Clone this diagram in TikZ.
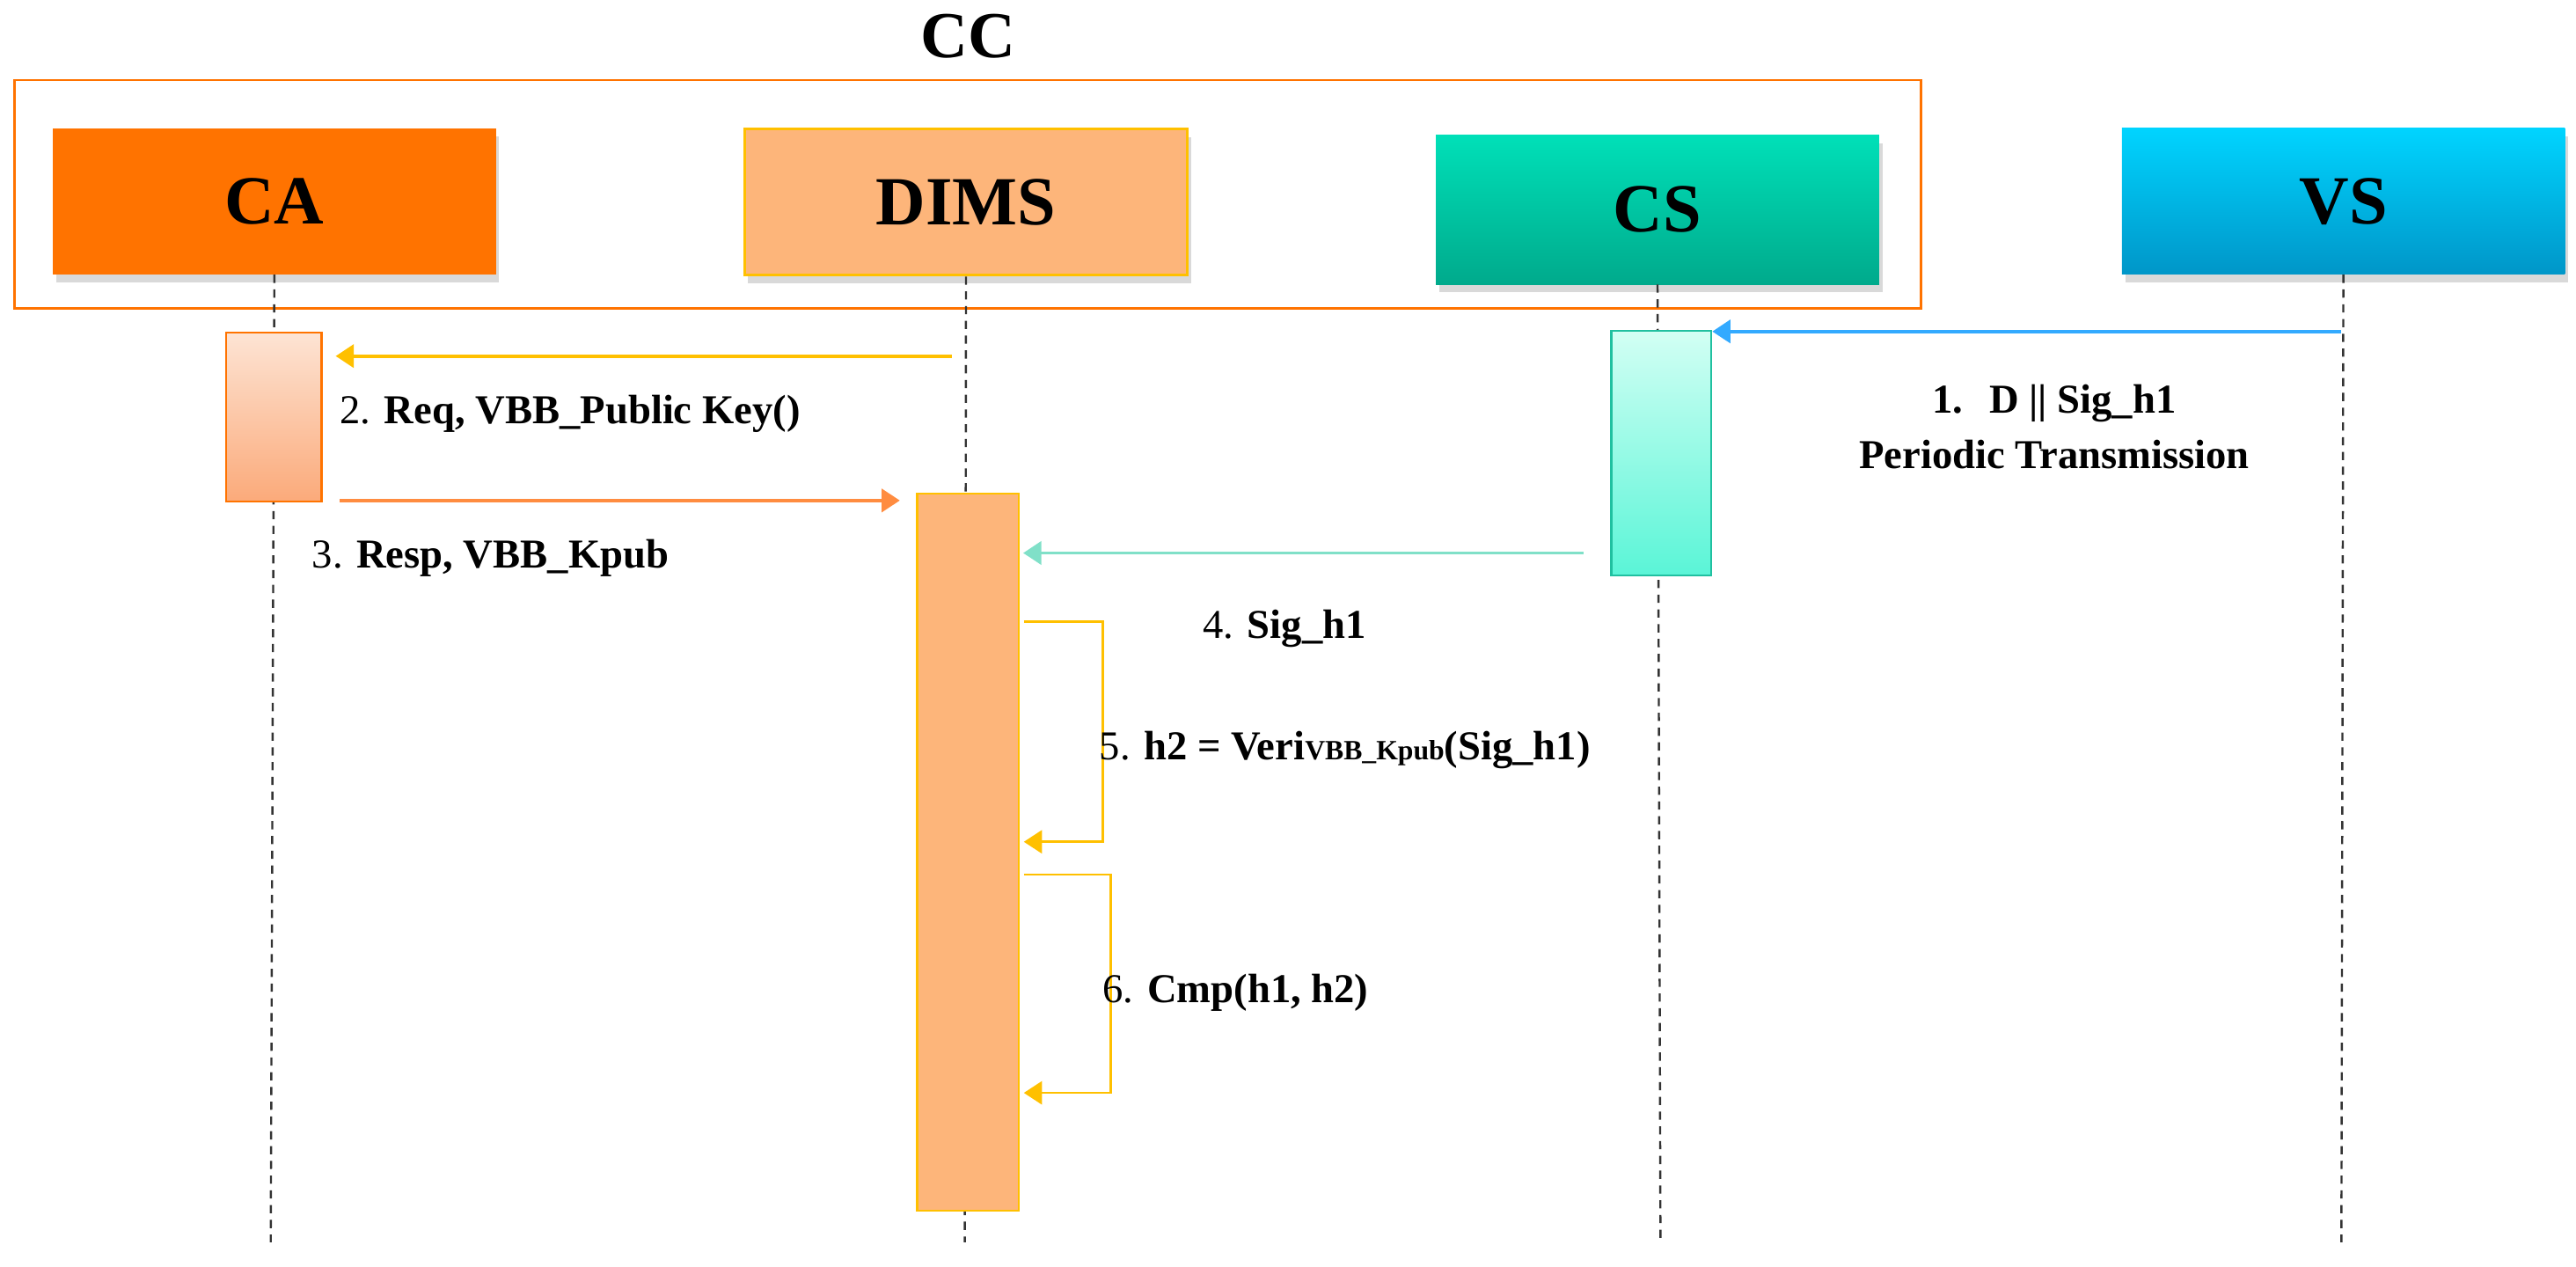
\documentclass[tikz,border=0pt]{standalone}
\usepackage{fontspec}
\setmainfont{Liberation Serif}
\usetikzlibrary{arrows.meta,shadows}
\begin{document}
\begin{tikzpicture}[x=1pt,y=-1pt,
  head/.style={draw=none,minimum width=270pt,minimum height=89pt,font=\fontsize{42}{42}\selectfont\bfseries,drop shadow={shadow xshift=2pt,shadow yshift=-5pt,opacity=0.3}},
  life/.style={dash pattern=on 5pt off 4pt,line width=1.3pt,black!80},
  act/.style={draw,line width=1.2pt,minimum width=58pt,inner sep=0pt},
  msg/.style={line width=2pt,-{Triangle[length=11pt,width=14pt]}},
  lbl/.style={font=\fontsize{25}{30}\selectfont,anchor=west,inner sep=0pt,align=center}]
\useasboundingbox (0,0) rectangle (1570,771.6);
\node[font=\fontsize{40}{40}\selectfont\bfseries] (cc) at (590,22) {CC};
\node[draw=orange!90!red,line width=1.5pt,minimum width=1162pt,minimum height=139pt,anchor=north west] (frame) at (8,48) {};
\node[head,fill=orange!90!red,anchor=north west] (ca) at (32,78) {CA};
\node[head,fill={rgb,255:red,253;green,181;blue,122},draw={rgb,255:red,255;green,192;blue,0},line width=1.5pt,anchor=north west] (dims) at (453,78) {DIMS};
\node[head,top color={rgb,255:red,0;green,224;blue,184},bottom color={rgb,255:red,0;green,170;blue,140},anchor=north west,minimum height=91pt] (cs) at (875,82) {CS};
\node[head,top color={rgb,255:red,0;green,212;blue,255},bottom color={rgb,255:red,0;green,150;blue,200},anchor=north west] (vs) at (1293,78) {VS};
% lifelines
\coordinate (caE) at (165,757);
\coordinate (dimsE) at (588,757);
\coordinate (csE) at (1012,757);
\coordinate (vsE) at (1427,757);
\draw[life] (ca.south) -- (caE);
\draw[life] (dims.south) -- (dimsE);
\draw[life] (cs.south) -- (csE);
\draw[life] (vs.south) -- (vsE);
% activations
\node[act,draw=orange!90!red,top color={rgb,255:red,253;green,228;blue,212},bottom color={rgb,255:red,251;green,170;blue,122},minimum height=103pt,anchor=north] (caA) at (167,202) {};
\node[act,draw={rgb,255:red,255;green,192;blue,0},fill={rgb,255:red,253;green,181;blue,122},minimum height=437pt,minimum width=62pt,anchor=north] (dimsA) at (590,300) {};
\node[act,draw={rgb,255:red,32;green,192;blue,160},top color={rgb,255:red,210;green,255;blue,244},bottom color={rgb,255:red,90;green,245;blue,215},minimum height=149pt,minimum width=61pt,anchor=north] (csA) at (1012.5,201) {};
% messages
\coordinate (m1s) at (1427,202);
\draw[msg,draw={rgb,255:red,51;green,170;blue,255}] (m1s) -- (csA.north east |- m1s);
\node[lbl,anchor=center] (l1) at (1252,260) {\textbf{1.}\hspace{16pt}\textbf{D || Sig\_h1}\\[4pt]\textbf{Periodic Transmission}};
\coordinate (m2s) at (580,217);
\draw[msg,draw={rgb,255:red,255;green,192;blue,0}] (m2s) -- ([xshift=8pt]caA.east |- m2s);
\node[lbl] (l2) at (207,252) {2. \textbf{Req, VBB\_Public Key()}};
\coordinate (m3s) at (207,305);
\draw[msg,draw={rgb,255:red,255;green,140;blue,64}] (m3s) -- ([xshift=-10pt]dimsA.west |- m3s);
\node[lbl] (l3) at (190,340) {3. \textbf{Resp, VBB\_Kpub}};
\coordinate (m4s) at (965,337);
\draw[msg,draw={rgb,255:red,128;green,224;blue,200}] (m4s) -- ([xshift=2pt]dimsA.east |- m4s);
\node[lbl] (l4) at (733,383) {4. \textbf{Sig\_h1}};
\coordinate (s5a) at (624,379);
\coordinate (s5b) at (624,513);
\draw[msg,line width=1.5pt,draw={rgb,255:red,255;green,192;blue,0}] (s5a) -- ++(48,0) |- (s5b);
\node[lbl] (l5) at (670,457) {5. \textbf{h2 = Veri{\fontsize{17}{17}\selectfont VBB\_Kpub}(Sig\_h1)}};
\coordinate (s6a) at (624,533);
\coordinate (s6b) at (624,666);
\draw[msg,line width=1.5pt,draw={rgb,255:red,255;green,192;blue,0}] (s6a) -- ++(53,0) |- (s6b);
\node[lbl] (l6) at (672,605) {6. \textbf{Cmp(h1, h2)}};
\end{tikzpicture}
\end{document}
